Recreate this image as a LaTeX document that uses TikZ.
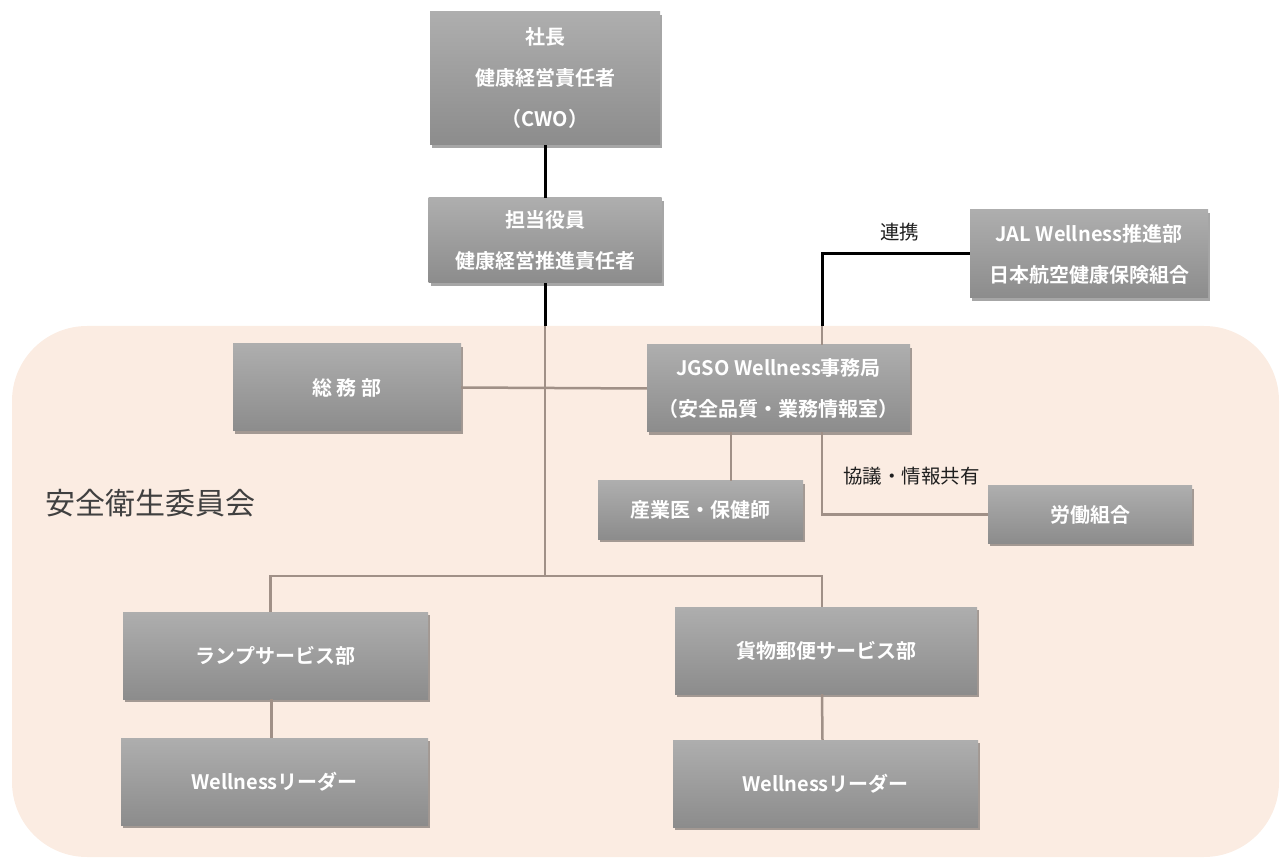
\documentclass[tikz,border=0pt]{standalone}
\usepackage{fontspec}
\setmainfont{Noto Sans CJK JP}[BoldFont={* Bold}]
\usetikzlibrary{shadows}
\definecolor{bgc}{RGB}{251,236,226}
\definecolor{boxtop}{RGB}{174,174,174}
\definecolor{boxbot}{RGB}{140,140,140}
\definecolor{connc}{RGB}{160,144,135}
\definecolor{labc}{RGB}{30,30,30}
\tikzset{
  box/.style={rectangle, top color=boxtop, bottom color=boxbot, draw=none,
    drop shadow={shadow xshift=2pt, shadow yshift=-3pt, opacity=0.35, fill=black},
    text=white, font=\bfseries\fontsize{20}{41}\selectfont, align=center, inner sep=0pt},
  blk/.style={draw=black, line width=3pt},
  conn/.style={draw=connc, line width=2.5pt},
  lab/.style={text=labc, font=\fontsize{19.5}{22}\selectfont, inner sep=0pt},
}
\begin{document}
\begin{tikzpicture}[x=1pt,y=-1pt]
\useasboundingbox (0,0) rectangle (1286,858);
\fill[bgc, rounded corners=75pt] (12,326) rectangle (1279,857);

% nodes
\node[box, minimum width=230, minimum height=133] (ceo) at (545,78.5) {社長\\健康経営責任者\\（CWO）};
\node[box, minimum width=233, minimum height=85] (exec) at (545,240.5) {担当役員\\健康経営推進責任者};
\node[box, minimum width=238, minimum height=88] (jal) at (1089,254) {JAL Wellness推進部\\日本航空健康保険組合};
\node[box, minimum width=228, minimum height=87] (soumu) at (347,387.5) {総 務 部};
\node[box, minimum width=263, minimum height=87] (jgso) at (778.5,388.5) {JGSO Wellness事務局\\（安全品質・業務情報室）};
\node[box, minimum width=205, minimum height=58] (sangyo) at (700.5,510) {産業医・保健師};
\node[box, minimum width=204, minimum height=57] (union) at (1090,514.5) {労働組合};
\node[box, minimum width=305, minimum height=87] (lamp) at (275.5,655.5) {ランプサービス部};
\node[box, minimum width=307, minimum height=87] (wl1) at (274.5,781.5) {Wellnessリーダー};
\node[box, minimum width=302, minimum height=87] (cargo) at (826,650.5) {貨物郵便サービス部};
\node[box, minimum width=305, minimum height=87] (wl2) at (825.5,783.5) {Wellnessリーダー};

\node[lab, anchor=west] (renkei) at (880,232) {連携};
\node[lab, anchor=west] (kyogi) at (843,476) {協議・情報共有};
\node[text=labc!85, font=\fontsize{30}{34}\selectfont, inner sep=0pt, anchor=west] (iinkai) at (45,503) {安全衛生委員会};

% junction coordinates
\coordinate (bgtop) at (547,326);
\coordinate (hub) at (547,576);
\coordinate (cx) at (822,326);
\coordinate (sx) at (731,460);

% connectors
\draw[blk] (ceo.south) -- (exec.north);
\draw[blk] (exec.south) -- (exec.south |- bgtop);
\draw[conn] (exec.south |- bgtop) -- (exec.south |- hub);
\draw[conn] (soumu.east) -- (jgso.west);
\draw[blk] (jal.west) -| (cx);
\draw[conn] (cx) -- (cx |- jgso.north);
\draw[conn] (jgso.south -| sx) -- (sangyo.north -| sx);
\draw[conn] (jgso.south -| cx) |- (union.west);
\draw[conn] (exec.south |- hub) -| ([xshift=-5pt]lamp.north);
\draw[conn] (exec.south |- hub) -| ([xshift=-4pt]cargo.north);
\draw[conn] ([xshift=-4pt]lamp.south) -- ([xshift=-3pt]wl1.north);
\draw[conn] ([xshift=-4pt]cargo.south) -- ([xshift=-3pt]wl2.north);
\end{tikzpicture}
\end{document}
